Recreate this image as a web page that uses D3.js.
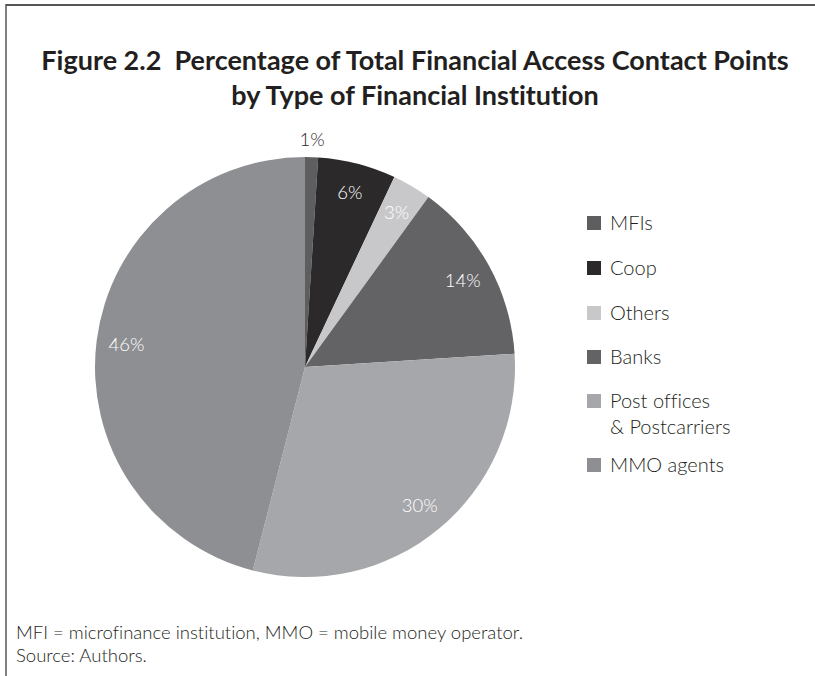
<!DOCTYPE html>
<html>
<head>
<meta charset="utf-8">
<script src="https://cdn.jsdelivr.net/npm/d3@7"></script>
<style>
  html, body { margin: 0; padding: 0; background: #fff; }
  svg { display: block; }
  text { font-variant-ligatures: none; white-space: pre; }
</style>
</head>
<body>
<svg id="chart" width="815" height="676"></svg>
<script>
// Share of financial access contact points by institution type (%)
const categories = ["MFIs", "Coop", "Others", "Banks", "Post offices\n& Postcarriers", "MMO agents"];
const shares = [1, 6, 3, 14, 30, 46];
const fills = ["#5e5e61", "#2b292a", "#c8c8ca", "#636366", "#a6a7aa", "#8e8f93"];
const labelColors = ["#2b292a", "#ffffff", "#ffffff", "#ffffff", "#ffffff", "#ffffff"];
const titleLines = [
  "Figure 2.2  Percentage of Total Financial Access Contact Points",
  "by Type of Financial Institution"
];
const notes = [
  "MFI = microfinance institution, MMO = mobile money operator.",
  "Source: Authors."
];

const svg = d3.select("#chart");

// frame: top and left rules
svg.append("line").attr("x1", 6).attr("x2", 815).attr("y1", 5).attr("y2", 5)
  .attr("stroke", "#555").attr("stroke-width", 2);
svg.append("line").attr("x1", 6).attr("x2", 6).attr("y1", 4).attr("y2", 676)
  .attr("stroke", "#555").attr("stroke-width", 1.5);

// title
svg.append("g").selectAll("text").data(titleLines).join("text")
  .attr("x", 415).attr("y", (d, i) => 70 + i * 35)
  .attr("text-anchor", "middle")
  .attr("font-family", "Lato, sans-serif").attr("font-weight", 700)
  .attr("font-size", 27).attr("fill", "#231f20")
  .text(d => d);

// pie
const cx = 305, cy = 367, R = 210;
const pie = d3.pie().sort(null).value(d => d);
const arcs = pie(shares);
const arc = d3.arc().innerRadius(0).outerRadius(R);
const g = svg.append("g").attr("transform", `translate(${cx},${cy})`);
g.selectAll("path").data(arcs).join("path")
  .attr("d", arc)
  .attr("fill", (d, i) => fills[i]);

// value labels: inside for larger slices, outside for the thin one
const labelArc = d3.arc().innerRadius(180).outerRadius(180);
const outerArc = d3.arc().innerRadius(228).outerRadius(228);
g.selectAll("text").data(arcs).join("text")
  .attr("transform", (d, i) => {
    const p = (shares[i] < 2 ? outerArc : labelArc).centroid(d);
    return `translate(${p[0]},${p[1]})`;
  })
  .attr("text-anchor", "middle").attr("dy", "0.35em")
  .attr("font-family", "Lato, sans-serif").attr("font-weight", 300)
  .attr("font-size", 18.5)
  .attr("fill", (d, i) => labelColors[i])
  .text((d, i) => shares[i] + "%");

// legend
const legendY = [223, 268, 313, 357, 401, 465];
const lg = svg.append("g");
categories.forEach((c, i) => {
  const row = lg.append("g").attr("transform", `translate(587,${legendY[i]})`);
  row.append("rect").attr("x", 0).attr("y", -7).attr("width", 14).attr("height", 14)
    .attr("fill", fills[i]);
  const t = row.append("text")
    .attr("font-family", "Lato, sans-serif").attr("font-weight", 300)
    .attr("font-size", 20).attr("fill", "#231f20");
  c.split("\n").forEach((line, j) => {
    t.append("tspan").attr("x", 23).attr("y", j * 26).attr("dy", "0.35em").text(line);
  });
});

// notes
svg.append("g").selectAll("text").data(notes).join("text")
  .attr("x", 16).attr("y", (d, i) => 639 + i * 23)
  .attr("font-family", "Lato, sans-serif").attr("font-weight", 300)
  .attr("font-size", 18.5).attr("fill", "#231f20")
  .text(d => d);
</script>
</body>
</html>
